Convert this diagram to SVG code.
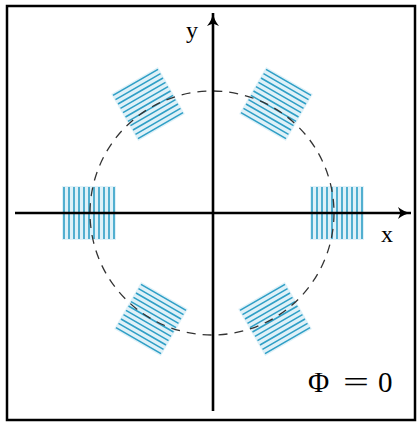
<svg xmlns="http://www.w3.org/2000/svg" width="419" height="422" viewBox="0 0 419 422">
  <style>
    .frame{fill:#fff;stroke:#000;stroke-width:2.5}
    .axis{stroke:#000;stroke-width:2.6;fill:none}
    .circ{fill:none;stroke:#333;stroke-width:1.3;stroke-dasharray:9 7}
    .gl{stroke:#2f9fc6;stroke-width:1.6}
    .gbg{fill:#dff1f8}
    .lbl{font-family:"Liberation Serif","DejaVu Serif",serif;fill:#000}
  </style>
  <defs>
    <g id="grating">
      <rect class="gbg" x="-27" y="-27" width="54" height="54"/>
      <path class="gl" d="M-25,-26V26M-20,-26V26M-15,-26V26M-10,-26V26M-5,-26V26M0,-26V26M5,-26V26M10,-26V26M15,-26V26M20,-26V26M25,-26V26"/>
    </g>
    <marker id="arr" markerUnits="userSpaceOnUse" markerWidth="16" markerHeight="14" refX="13" refY="7" orient="auto">
      <path d="M0,1 Q6,6 13,7 Q6,8 0,13 L2.5,7 Z" fill="#000"/>
    </marker>
  </defs>
  <rect class="frame" x="7" y="6" width="408" height="414"/>
  <g id="gratings">
    <g id="g0"><use href="#grating" transform="translate(337,213)"/></g>
    <g id="g60"><use href="#grating" transform="translate(276,104) rotate(-60)"/></g>
    <g id="g120"><use href="#grating" transform="translate(148,104) rotate(60)"/></g>
    <g id="g180"><use href="#grating" transform="translate(89,213)"/></g>
    <g id="g240"><use href="#grating" transform="translate(151,319) rotate(-60)"/></g>
    <g id="g300"><use href="#grating" transform="translate(275,319) rotate(60)"/></g>
  </g>
  <g id="circle"><circle class="circ" cx="212" cy="213" r="122"/></g>
  <g id="connectors">
    <line class="axis" x1="15" y1="213" x2="411" y2="213" marker-end="url(#arr)"/>
    <line class="axis" x1="213" y1="411" x2="213" y2="13" marker-end="url(#arr)"/>
  </g>
  <text class="lbl" x="186" y="38" font-size="24">y</text>
  <text class="lbl" x="381" y="242" font-size="24">x</text>
  <text class="lbl" x="308" y="392" font-size="29">Φ</text>
  <text class="lbl" x="343" y="392" font-size="29" textLength="26" lengthAdjust="spacingAndGlyphs">=</text>
  <text class="lbl" x="378" y="392" font-size="29">0</text>
</svg>
